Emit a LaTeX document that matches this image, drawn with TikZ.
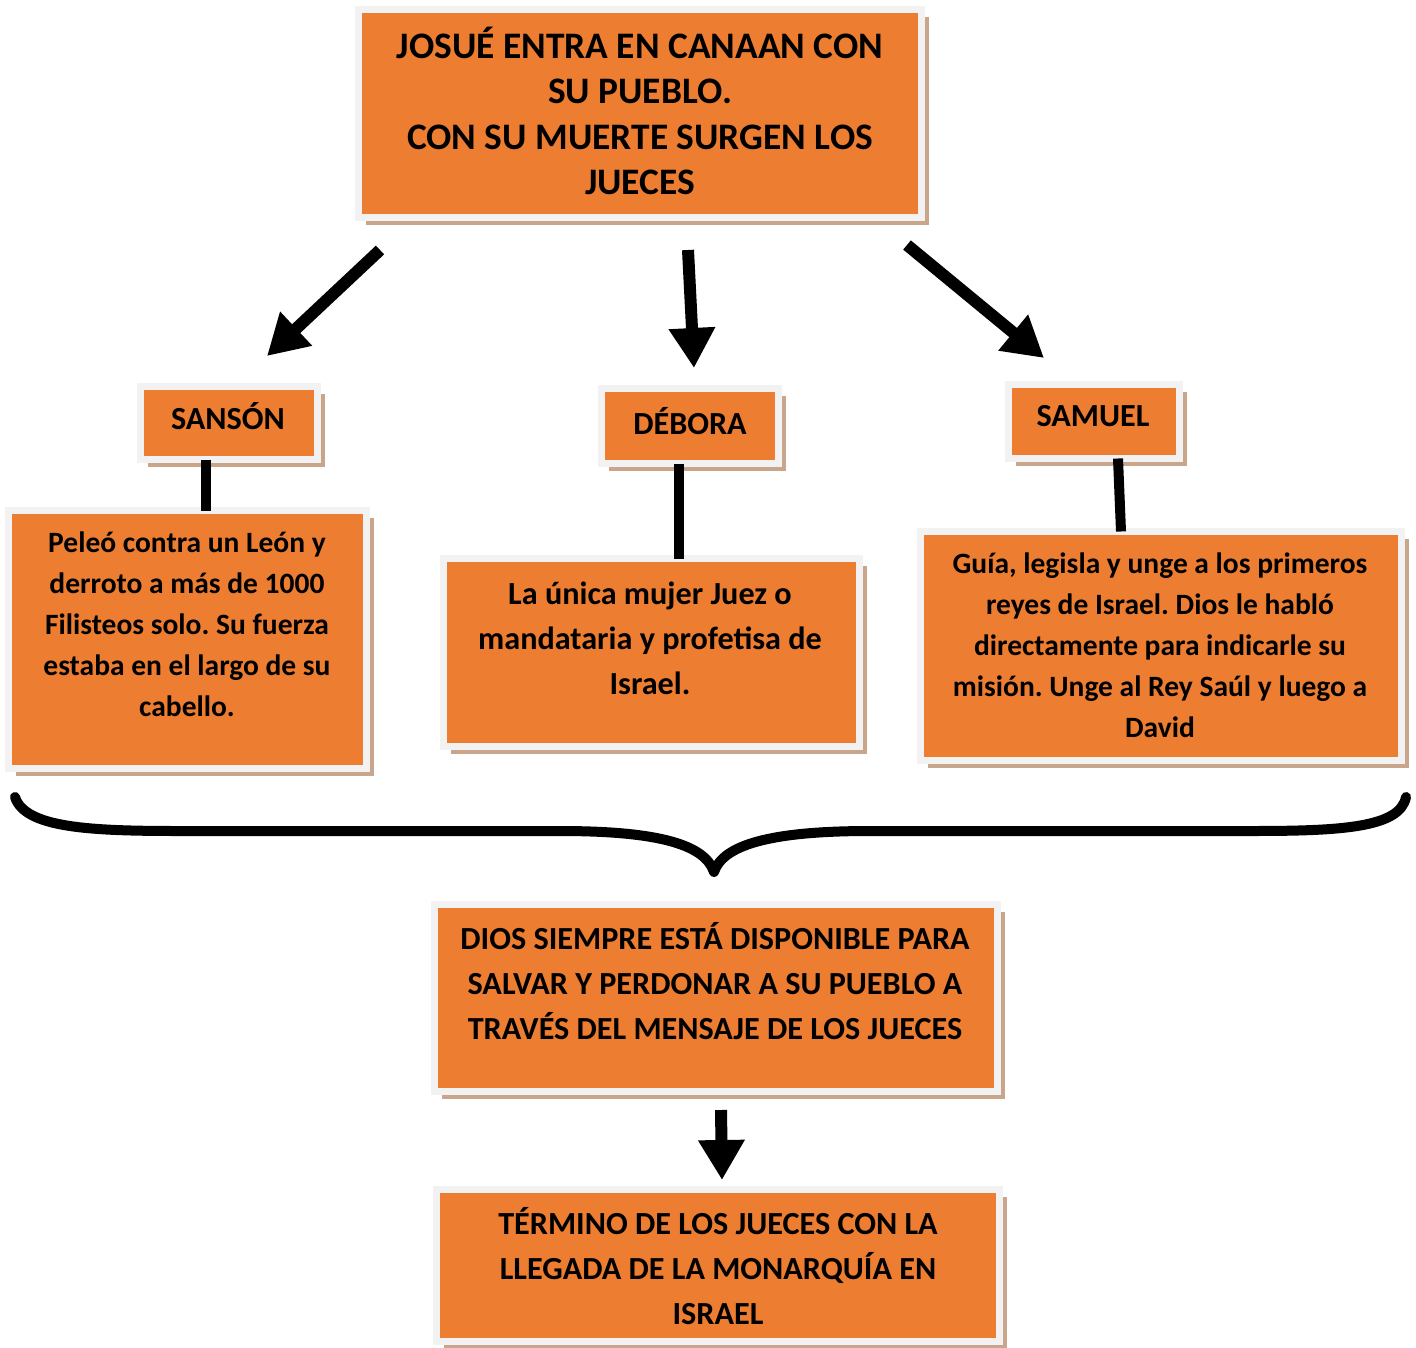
\documentclass[tikz,border=0pt]{standalone}
\usepackage{fontspec}
\setmainfont{Carlito}
\usetikzlibrary{positioning,arrows.meta,shadows}
\definecolor{naranja}{HTML}{ED7D31}
\definecolor{grisclaro}{HTML}{F2F2F2}
\definecolor{sombra}{HTML}{C9A58C}
\frenchspacing
\begin{document}
\begin{tikzpicture}[x=1pt, y=-1pt,
    caja/.style={fill=naranja, draw=grisclaro, line width=7pt, inner sep=0pt,
      outer sep=0pt, drop shadow={shadow xshift=7.5pt, shadow yshift=-7.5pt,
      fill=sombra, opacity=1}},
    texto/.style={align=center, text=black, font=\bfseries\fontsize{29.5}{41}\selectfont},
    titulo/.style={texto, font=\bfseries\fontsize{37.4}{45.5}\selectfont},
    ancho/.style={texto, font=\bfseries\fontsize{32.2}{45}\selectfont},
    flecha/.style={line width=12pt, -{Triangle[width=44pt,length=40pt]}},
    enlace/.style={line width=10pt}]
  \useasboundingbox (0,0) rectangle (1416,1347);
  % cajas
  \node[caja, minimum width=563, minimum height=208] (josue) at (640,113.5) {};%
  \node[caja, minimum width=177, minimum height=73] (sanson) at (229,423) {};%
  \node[caja, minimum width=177, minimum height=75] (debora) at (690,426) {};%
  \node[caja, minimum width=171, minimum height=74] (samuel) at (1094,421.5) {};%
  \node[caja, minimum width=358, minimum height=258] (pelea) at (187.5,639.5) {};%
  \node[caja, minimum width=416, minimum height=188] (unica) at (651.5,652.5) {};%
  \node[caja, minimum width=481, minimum height=229] (guia) at (1161,646) {};%
  \node[caja, minimum width=563, minimum height=187] (dios) at (716,998) {};%
  \node[caja, minimum width=563, minimum height=152] (termino) at (718,1265.5) {};%
  % textos
  \node[titulo] (josuetxt) at (640,111) {JOSUÉ ENTRA EN CANAAN CON\\SU PUEBLO.\\CON SU MUERTE SURGEN LOS\\JUECES};%
  \node[ancho] (sansontxt) at (228,416) {SANSÓN};%
  \node[ancho] (deboratxt) at (690,421) {DÉBORA};%
  \node[ancho] (samueltxt) at (1093,416) {SAMUEL};%
  \node[texto] (peleatxt) at (187,624.5) {Peleó contra un León y\\derroto a más de 1000\\Filisteos solo. Su fuerza\\estaba en el largo de su\\cabello.};%
  \node[ancho] (unicatxt) at (650,638) {La única mujer Juez o\\mandataria y profetisa de\\Israel.};%
  \node[texto] (guiatxt) at (1160,645.5) {Guía, legisla y unge a los primeros\\reyes de Israel. Dios le habló\\directamente para indicarle su\\misión. Unge al Rey Saúl y luego a\\David};%
  \node[ancho] (diostxt) at (715,981.5) {DIOS SIEMPRE ESTÁ DISPONIBLE PARA\\SALVAR Y PERDONAR A SU PUEBLO A\\TRAVÉS DEL MENSAJE DE LOS JUECES};%
  \node[ancho] (terminotxt) at (718,1266) {TÉRMINO DE LOS JUECES CON LA\\LLEGADA DE LA MONARQUÍA EN\\ISRAEL};%
  % flechas
  \coordinate (f1a) at (380,250); \coordinate (f1b) at (267,356);
  \coordinate (f2a) at (688,250); \coordinate (f2b) at (694,368);
  \coordinate (f3a) at (907,245); \coordinate (f3b) at (1044,358);
  \coordinate (f4a) at (721,1110); \coordinate (f4b) at (722,1180);
  \path[flecha] (f1a) edge (f1b)
                (f2a) edge (f2b)
                (f3a) edge (f3b)
                (f4a) edge (f4b);
  % enlaces
  \draw[enlace] ([xshift=-23pt]sanson.south) -- ([xshift=-23pt]sanson.south |- pelea.north);
  \draw[enlace] ([xshift=-11pt]debora.south) -- ([xshift=-11pt]debora.south |- unica.north);
  \draw[enlace] ([xshift=24pt]samuel.south) -- ([xshift=27pt]samuel.south |- guia.north);
  % llave
  \draw[line width=10pt, line cap=round, line join=round]
    (15,797) .. controls (25,828) and (90,831) .. (180,831) -- (560,831)
    .. controls (660,831) and (705,845) .. (714,872)
    .. controls (723,845) and (770,831) .. (870,831) -- (1250,831)
    .. controls (1340,831) and (1400,828) .. (1406,797);
\end{tikzpicture}
\end{document}
